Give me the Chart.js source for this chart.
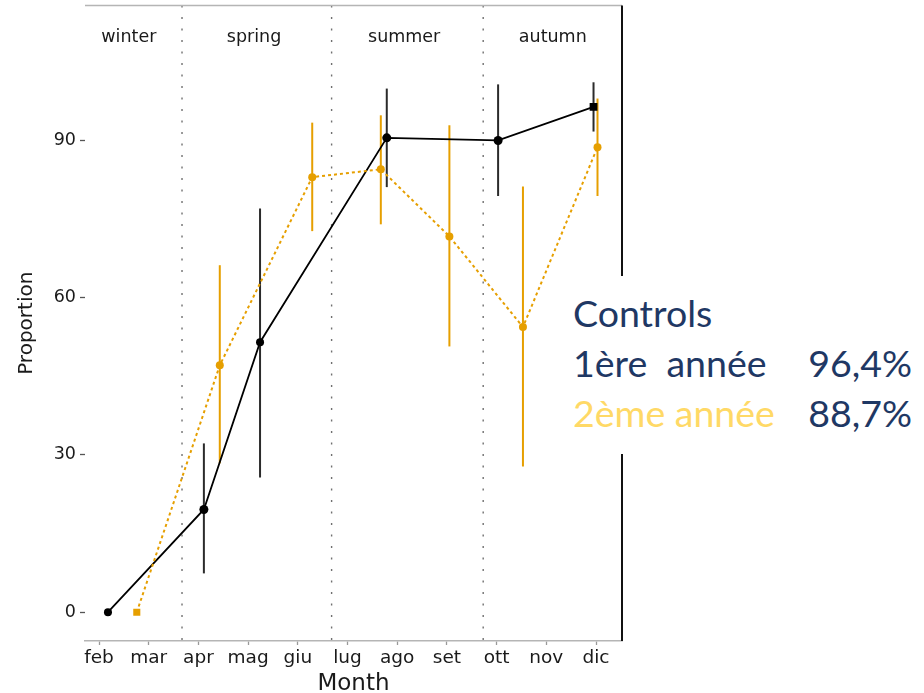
<!DOCTYPE html>
<html>
<head>
<meta charset="utf-8">
<title>Proportion by month</title>
<script src="https://cdn.jsdelivr.net/npm/chart.js@4.4.1/dist/chart.umd.min.js"></script>
<style>
  html, body { margin: 0; padding: 0; background: #fff; }
  #wrap { position: relative; width: 924px; height: 693px; }
  #note {
    position: absolute; left: 562px; top: 276px; width: 362px; height: 178px;
    background: #fff; font-family: Lato, "Open Sans", sans-serif; font-size: 37.5px; color: #1F3864;
  }
  #note .row { position: absolute; left: 11px; right: 12px; height: 50px; line-height: 50px; white-space: pre; }
  #note .pct { position: absolute; right: 0; top: 0; }
  #note .gold { color: #FFD966; }
</style>
</head>
<body>
<div id="wrap">
  <canvas id="chart" width="924" height="693"></canvas>
  <div id="note">
    <div class="row" style="top:12px">Controls</div>
    <div class="row" style="top:62px">1ère  année<span class="pct">96,4%</span></div>
    <div class="row" style="top:112px"><span class="gold">2ème année</span><span class="pct">88,7%</span></div>
  </div>
</div>
<script>
// Month axis: feb = 2 ... dic = 12
const monthTicks = [2, 3, 4, 5, 6, 7, 8, 9, 10, 11, 12];
const monthLabels = ['feb', 'mar', 'apr', 'mag', 'giu', 'lug', 'ago', 'set', 'ott', 'nov', 'dic'];
const propTicks = [0, 30, 60, 90];

// Seasons
const seasonNames = ['winter', 'spring', 'summer', 'autumn'];
const seasonBreaks = [3.67, 6.68, 9.73];
const seasonLabelX = [2.6, 5.12, 8.14, 11.13];
const seasonLabelY = 109.6;

// 1st year (black)
const months1 = [2.18, 4.11, 5.24, 7.79, 10.03, 11.95];
const prop1 = [0, 19.6, 51.5, 90.5, 90.0, 96.4];
const low1 = [null, 7.4, 25.7, 81.1, 79.4, 91.7];
const high1 = [null, 32.2, 77.0, 99.9, 100.7, 101.1];

// 2nd year (orange)
const months2 = [2.76, 4.43, 6.29, 7.67, 9.05, 10.53, 12.03];
const prop2 = [0, 47.1, 83.0, 84.5, 71.7, 54.4, 88.7];
const low2 = [null, 28.4, 72.7, 74.0, 50.7, 27.8, 79.4];
const high2 = [null, 66.2, 93.4, 94.8, 92.9, 81.2, 98.0];

const BLACK = '#000000';
const ORANGE = '#E69F00';

const toPoints = (xs, ys) => xs.map((m, i) => ({ x: m, y: ys[i] }));

// Draw season separators, season names, error bars and the panel frame
const decorations = {
  id: 'decorations',
  beforeDatasetsDraw(chart) {
    const { ctx, chartArea: a, scales: { x, y } } = chart;
    ctx.save();
    ctx.strokeStyle = '#707070';
    ctx.lineWidth = 1.4;
    ctx.setLineDash([2, 9.5]);
    seasonBreaks.forEach(b => {
      const px = x.getPixelForValue(b);
      ctx.beginPath();
      ctx.moveTo(px, a.top);
      ctx.lineTo(px, a.bottom);
      ctx.stroke();
    });
    ctx.setLineDash([]);

    ctx.fillStyle = '#1a1a1a';
    ctx.font = '17.5px "DejaVu Sans"';
    ctx.textAlign = 'center';
    ctx.textBaseline = 'middle';
    seasonNames.forEach((s, i) => {
      ctx.fillText(s, x.getPixelForValue(seasonLabelX[i]), y.getPixelForValue(seasonLabelY));
    });

    const bars = [[months2, low2, high2, ORANGE], [months1, low1, high1, '#2b2b2b']];
    ctx.lineWidth = 2;
    bars.forEach(([xs, lo, hi, col]) => {
      ctx.strokeStyle = col;
      xs.forEach((m, i) => {
        if (lo[i] == null) return;
        const px = x.getPixelForValue(m);
        ctx.beginPath();
        ctx.moveTo(px, y.getPixelForValue(lo[i]));
        ctx.lineTo(px, y.getPixelForValue(hi[i]));
        ctx.stroke();
      });
    });
    ctx.restore();
  },
  afterDraw(chart) {
    const { ctx, chartArea: a } = chart;
    ctx.save();
    ctx.strokeStyle = '#b5b5b5';
    ctx.lineWidth = 1.5;
    ctx.beginPath();
    ctx.moveTo(a.left, a.top);
    ctx.lineTo(a.right, a.top);
    ctx.stroke();
    ctx.strokeStyle = '#111';
    ctx.lineWidth = 2;
    ctx.beginPath();
    ctx.moveTo(a.right, a.top);
    ctx.lineTo(a.right, a.bottom);
    ctx.stroke();
    ctx.restore();
  }
};

new Chart(document.getElementById('chart'), {
  type: 'scatter',
  data: {
    datasets: [
      {
        label: '2ème année',
        data: toPoints(months2, prop2),
        showLine: true,
        borderColor: ORANGE,
        backgroundColor: ORANGE,
        borderWidth: 2,
        borderDash: [3, 3],
        pointStyle: ['rect', 'circle', 'circle', 'circle', 'circle', 'circle', 'circle'],
        pointRadius: [5, 4, 4, 4, 4, 4, 4],
        pointBorderWidth: 0
      },
      {
        label: '1ère année',
        data: toPoints(months1, prop1),
        showLine: true,
        borderColor: BLACK,
        backgroundColor: BLACK,
        borderWidth: 1.8,
        pointStyle: ['circle', 'circle', 'circle', 'circle', 'circle', 'rect'],
        pointRadius: [4, 4.5, 4, 4.5, 4.5, 5.5],
        pointBorderWidth: 0
      }
    ]
  },
  options: {
    responsive: false,
    animation: false,
    layout: { padding: { top: 5, right: 302, left: 0, bottom: 0 } },
    plugins: { legend: { display: false }, tooltip: { enabled: false } },
    scales: {
      x: {
        type: 'linear',
        min: 1.718,
        max: 12.523,
        afterBuildTicks: s => { s.ticks = monthTicks.map(v => ({ value: v })); },
        afterFit: s => { s.height = 52; s.paddingLeft = 0; s.paddingRight = 0; },
        ticks: {
          autoSkip: false,
          maxRotation: 0,
          padding: 2,
          color: '#1a1a1a',
          font: { family: 'DejaVu Sans', size: 18.5 },
          callback: v => monthLabels[monthTicks.indexOf(v)]
        },
        grid: { drawOnChartArea: false, tickLength: 4, color: '#999', tickWidth: 1.3 },
        border: { display: true, color: '#b5b5b5', width: 1.5 },
        title: {
          display: true,
          text: 'Month',
          color: '#1a1a1a',
          font: { family: 'DejaVu Sans', size: 23, lineHeight: 0.8 },
          padding: { top: 0, bottom: 0 }
        }
      },
      y: {
        min: -5.5,
        max: 115.75,
        afterBuildTicks: s => { s.ticks = propTicks.map(v => ({ value: v })); },
        afterFit: s => { s.width = 85; s.paddingTop = 0; s.paddingBottom = 0; },
        ticks: {
          padding: 4,
          color: '#1a1a1a',
          font: { family: 'DejaVu Sans', size: 17.5 }
        },
        grid: { drawOnChartArea: false, tickLength: 5, color: '#555', tickWidth: 1.3 },
        border: { display: false },
        title: {
          display: true,
          text: 'Proportion',
          color: '#1a1a1a',
          font: { family: 'DejaVu Sans', size: 20, lineHeight: 1.2 },
          padding: { top: 15, bottom: 0 }
        }
      }
    }
  },
  plugins: [decorations]
});
</script>
</body>
</html>
